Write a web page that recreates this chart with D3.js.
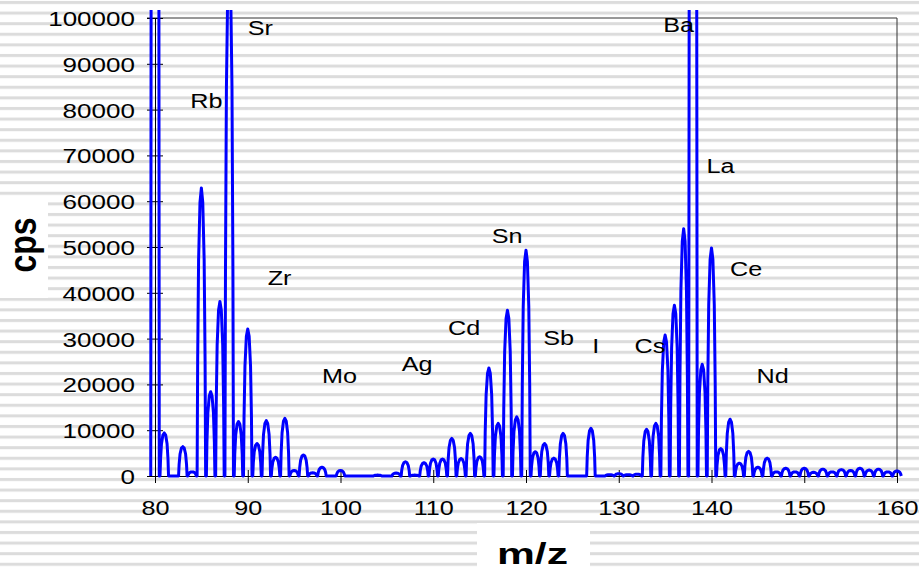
<!DOCTYPE html>
<meta charset="utf-8">
<style>
body{ margin:0; background:#fff; }
text{ font-family:"Liberation Sans", Arial, sans-serif; fill:#000; }
.tick text{ font-size:21px; }
.lbl{ font-size:21px; }
.title{ font-weight:bold; }
</style>
<body>
<svg id="chart" width="919" height="573"></svg>
<script src="https://d3js.org/d3.v7.min.js"></script>
<script>
// mass spectrum, counts per second at each m/z
var masses = [80,81,82,83,84,85,86,87,88,89,90,91,92,93,94,95,96,97,98,99,
  100,101,102,103,104,105,106,107,108,109,110,111,112,113,114,115,116,117,118,119,
  120,121,122,123,124,125,126,127,128,129,130,131,132,133,134,135,136,137,138,139,
  140,141,142,143,144,145,146,147,148,149,150,151,152,153,154,155,156,157,158,159,160];
var cps = [400000,9400,0,6400,900,62900,18400,38100,113000,11900,32100,7100,12100,4100,12600,1200,4600,700,1900,0,
  1200,0,0,0,200,0,650,3100,200,2900,3700,3700,8200,3800,9300,4200,23600,11500,36200,12900,
  49300,5300,7100,3900,9300,0,0,10400,0,300,500,300,400,10200,11500,30800,37300,54000,300000,24400,
  49800,6000,12400,2800,5400,1900,3900,900,1700,900,1700,800,1500,900,1400,1200,1700,1300,1500,900,1100];

// peak profile (fraction of peak height at offsets from the nominal mass)
var peakOffsets = [-0.46,-0.4,-0.3,-0.15,0,0.15,0.3,0.4,0.46];
var peakWeights = [0,0.4,0.75,0.95,1,0.95,0.75,0.4,0];

var xTicks = [80,90,100,110,120,130,140,150,160];
var yTicks = [0,10000,20000,30000,40000,50000,60000,70000,80000,90000,100000];

var elements = ["Sr","Rb","Zr","Mo","Ag","Cd","Sn","Sb","I","Cs","Ba","La","Ce","Nd"];
var elemMz   = [90.0,83.8,92.15,98.0,106.6,111.6,116.3,121.85,127.15,131.7,134.8,139.45,142.0,144.85];
var elemCps  = [96300,80300,41700,20300,22900,30800,50900,28600,26900,26900,96900,66200,43700,20300];

var svg = d3.select("#chart");
var x = d3.scaleLinear().domain([80,160]).range([155,897]);
var y = d3.scaleLinear().domain([0,100000]).range([476,18]);

// striped background
var defs = svg.append("defs");
var pat = defs.append("pattern").attr("id","stripes")
  .attr("patternUnits","userSpaceOnUse").attr("width",20).attr("height",10.6);
pat.append("rect").attr("width",20).attr("height",10.6).attr("fill","#fff");
pat.append("rect").attr("y",1).attr("width",20).attr("height",3).attr("fill","#dcdcdc");
svg.append("rect").attr("width",919).attr("height",573).attr("fill","url(#stripes)");

defs.append("clipPath").attr("id","clip").append("rect")
  .attr("x",145).attr("y",10).attr("width",765).attr("height",470);

// frame
svg.append("line").attr("x1",147).attr("x2",x(160)).attr("y1",y(100000)).attr("y2",y(100000)).attr("stroke","#333");
svg.append("line").attr("x1",x(160)).attr("x2",x(160)).attr("y1",y(100000)).attr("y2",y(0)).attr("stroke","#333");

var yAxis = svg.append("g").attr("transform","translate("+x(80)+",0)")
  .call(d3.axisLeft(y).tickValues(yTicks).tickSize(8).tickPadding(20).tickFormat(d3.format("d")));
yAxis.selectAll(".tick line").attr("x2",8).attr("x1",-8);
yAxis.selectAll(".tick text")
  .attr("x",null).attr("transform","translate(-20,0) scale(1.24,1)").attr("dy","0.36em");

var xAxis = svg.append("g").attr("transform","translate(0,"+y(0)+")")
  .call(d3.axisBottom(x).tickValues(xTicks).tickSize(7).tickPadding(0).tickFormat(d3.format("d")));
xAxis.selectAll(".tick line").attr("y1",-6).attr("y2",7);
xAxis.selectAll(".tick text").attr("y",null).attr("dy",null)
  .attr("transform","translate(0,39) scale(1.2,1)");
svg.selectAll(".domain").attr("stroke","#000");
svg.selectAll(".tick line").attr("stroke","#000");

// spectrum line
var pts = [];
masses.forEach(function(m,i){
  peakOffsets.forEach(function(o,j){ pts.push([m+o, cps[i]*peakWeights[j]]); });
});
svg.append("path").datum(pts)
  .attr("clip-path","url(#clip)")
  .attr("fill","none").attr("stroke","#0000ff").attr("stroke-width",3)
  .attr("stroke-linejoin","round")
  .attr("d", d3.line().x(function(d){return x(d[0]);}).y(function(d){return y(d[1]);}));

// element labels
elements.forEach(function(e,i){
  svg.append("text").attr("class","lbl")
    .attr("transform","translate("+x(elemMz[i])+","+y(elemCps[i])+") scale(1.2,1)")
    .text(e);
});

// axis titles on white boxes
svg.append("rect").attr("x",0).attr("y",197).attr("width",48).attr("height",101).attr("fill","#fff");
svg.append("text").attr("class","title").style("font-size","32px").attr("text-anchor","middle")
  .attr("transform","translate(36,245) scale(1.2,1) rotate(-90)").text("cps");

svg.append("rect").attr("x",477).attr("y",523).attr("width",113).attr("height",50).attr("fill","#fff");
svg.append("text").attr("class","title").style("font-size","29px")
  .attr("x",497).attr("y",564).attr("textLength",71).attr("lengthAdjust","spacingAndGlyphs").text("m/z");
</script>
</body>
